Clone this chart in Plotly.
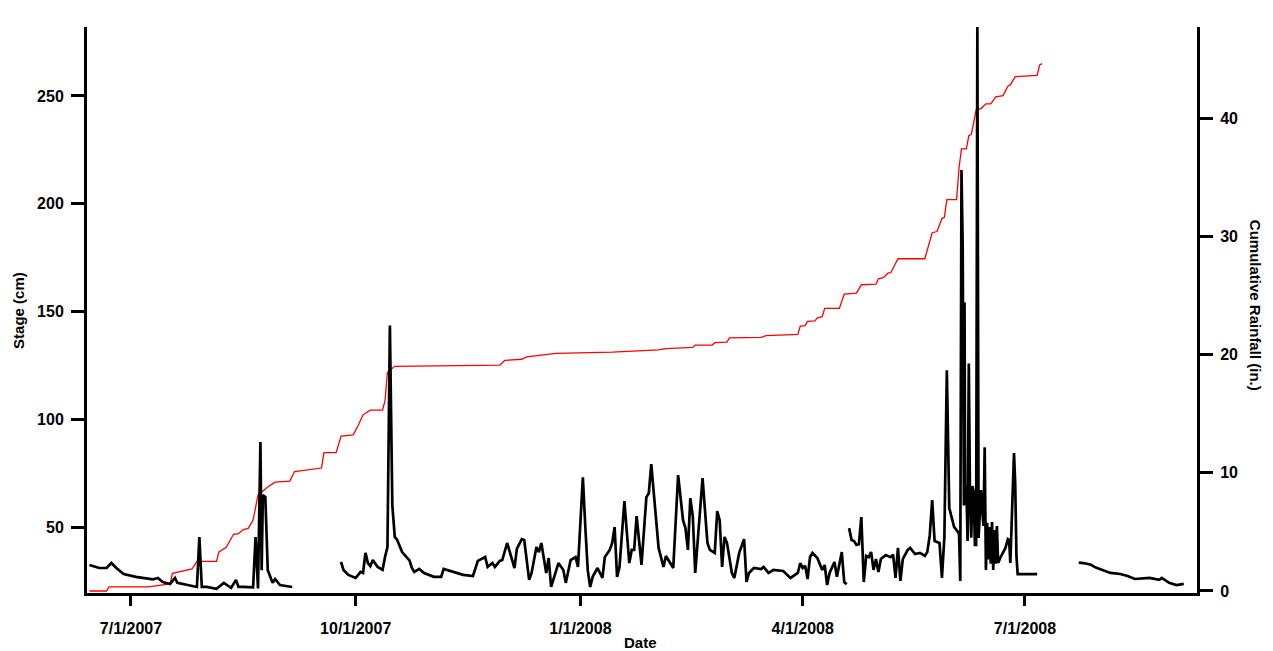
import plotly.graph_objects as go

# ---------------- data ----------------
stage_dates = [
    # segment 1
    "2007-06-14", "2007-06-18", "2007-06-21", "2007-06-23", "2007-06-25", "2007-06-28",
    "2007-07-03", "2007-07-08", "2007-07-10", "2007-07-12", "2007-07-14", "2007-07-17",
    "2007-07-19", "2007-07-20", "2007-07-26", "2007-07-28", "2007-07-29", "2007-07-30",
    "2007-08-01", "2007-08-05", "2007-08-08", "2007-08-11", "2007-08-13", "2007-08-14",
    "2007-08-16", "2007-08-20", "2007-08-21", "2007-08-22", "2007-08-23", "2007-08-23 12:00",
    "2007-08-24", "2007-08-25", "2007-08-26", "2007-08-27", "2007-08-28", "2007-08-29",
    "2007-08-31", "2007-09-05",
    "2007-09-15",  # gap
    # segment 2
    "2007-09-25", "2007-09-26", "2007-09-28", "2007-10-01", "2007-10-03", "2007-10-04",
    "2007-10-05", "2007-10-06", "2007-10-07", "2007-10-08", "2007-10-10", "2007-10-12",
    "2007-10-13", "2007-10-14", "2007-10-15", "2007-10-16", "2007-10-17", "2007-10-18",
    "2007-10-20", "2007-10-23", "2007-10-24", "2007-10-25", "2007-10-27", "2007-10-29",
    "2007-11-02", "2007-11-05", "2007-11-06", "2007-11-10", "2007-11-14", "2007-11-18",
    "2007-11-20", "2007-11-23", "2007-11-24", "2007-11-26", "2007-11-27", "2007-11-29",
    "2007-11-30", "2007-12-02", "2007-12-04", "2007-12-05", "2007-12-06", "2007-12-08",
    "2007-12-09", "2007-12-11", "2007-12-12", "2007-12-14", "2007-12-15", "2007-12-16",
    "2007-12-18", "2007-12-19", "2007-12-20", "2007-12-23", "2007-12-25", "2007-12-26",
    "2007-12-28", "2007-12-30", "2007-12-31", "2008-01-02", "2008-01-03", "2008-01-04",
    "2008-01-05", "2008-01-06", "2008-01-08", "2008-01-10", "2008-01-11", "2008-01-13",
    "2008-01-14", "2008-01-15", "2008-01-16", "2008-01-17", "2008-01-19", "2008-01-21",
    "2008-01-22", "2008-01-23", "2008-01-24", "2008-01-26", "2008-01-28", "2008-01-29",
    "2008-01-30", "2008-02-01", "2008-02-02", "2008-02-04", "2008-02-05", "2008-02-08",
    "2008-02-10", "2008-02-12", "2008-02-13", "2008-02-14", "2008-02-15", "2008-02-16",
    "2008-02-17", "2008-02-20", "2008-02-22", "2008-02-23", "2008-02-25", "2008-02-26",
    "2008-02-27", "2008-02-28", "2008-02-29", "2008-03-01", "2008-03-03", "2008-03-04",
    "2008-03-06", "2008-03-08", "2008-03-09", "2008-03-10", "2008-03-12", "2008-03-15",
    "2008-03-16", "2008-03-18", "2008-03-20", "2008-03-24", "2008-03-27", "2008-03-30",
    "2008-03-31", "2008-04-01", "2008-04-02", "2008-04-03", "2008-04-04", "2008-04-05",
    "2008-04-07", "2008-04-09", "2008-04-10", "2008-04-11", "2008-04-12", "2008-04-14",
    "2008-04-15", "2008-04-17", "2008-04-18", "2008-04-19",
    "2008-04-19 12:00",  # gap
    "2008-04-20", "2008-04-21", "2008-04-22", "2008-04-23", "2008-04-24", "2008-04-25",
    "2008-04-26", "2008-04-27", "2008-04-28", "2008-04-29", "2008-04-30", "2008-05-01",
    "2008-05-02", "2008-05-03", "2008-05-05", "2008-05-07", "2008-05-08", "2008-05-09",
    "2008-05-10", "2008-05-11", "2008-05-12", "2008-05-14", "2008-05-15", "2008-05-17",
    "2008-05-19", "2008-05-21", "2008-05-22", "2008-05-23", "2008-05-24", "2008-05-25",
    "2008-05-27", "2008-05-28", "2008-05-29", "2008-05-30", "2008-05-31", "2008-06-01",
    "2008-06-02", "2008-06-03", "2008-06-04", "2008-06-04 12:00", "2008-06-05", "2008-06-05 12:00",
    "2008-06-06", "2008-06-06 06:00", "2008-06-06 12:00", "2008-06-07", "2008-06-07 12:00", "2008-06-08",
    "2008-06-08 12:00", "2008-06-09", "2008-06-09 12:00", "2008-06-10", "2008-06-10 12:00", "2008-06-11",
    "2008-06-11 12:00", "2008-06-12", "2008-06-12 12:00", "2008-06-13", "2008-06-13 12:00", "2008-06-14",
    "2008-06-14 12:00", "2008-06-15", "2008-06-15 12:00", "2008-06-16", "2008-06-16 12:00", "2008-06-17",
    "2008-06-17 12:00", "2008-06-18", "2008-06-18 12:00", "2008-06-19", "2008-06-19 12:00", "2008-06-20",
    "2008-06-21", "2008-06-22", "2008-06-23", "2008-06-24", "2008-06-24 12:00", "2008-06-25",
    "2008-06-26 12:00", "2008-06-27", "2008-06-27 12:00", "2008-06-28", "2008-07-06",
    "2008-07-15",  # gap
    # segment 3
    "2008-07-23", "2008-07-25", "2008-07-28", "2008-07-30", "2008-08-02", "2008-08-05",
    "2008-08-09", "2008-08-12", "2008-08-15", "2008-08-21", "2008-08-25", "2008-08-26",
    "2008-08-29", "2008-09-01", "2008-09-04",
]
stage_cm = [
    32.4, 31.0, 31.0, 33.3, 31.0, 28.2,
    26.9, 25.9, 25.7, 26.4, 24.5, 23.6,
    26.4, 24.1, 22.7, 22.2, 45.4, 22.2,
    22.2, 21.3, 24.1, 21.8, 25.5, 22.2,
    22.2, 22.0, 45.4, 21.5, 89.4, 30.0,
    64.8, 64.0, 30.0, 26.9, 24.1, 25.9,
    23.1, 22.2,
    None,
    33.8, 30.1, 27.8, 26.4, 29.2, 28.7,
    38.0, 33.3, 31.9, 34.7, 31.5, 30.1,
    36.1, 40.7, 143.5, 60.0, 45.4, 44.0,
    38.4, 34.5, 31.0, 29.2, 30.6, 28.7,
    26.9, 26.9, 30.6, 29.2, 27.8, 27.3,
    34.3, 36.1, 31.5, 33.3, 31.5, 34.3,
    34.7, 42.6, 35.6, 31.0, 40.0, 44.4,
    44.0, 25.5, 28.7, 40.7, 38.4, 42.6,
    28.7, 35.6, 22.2, 33.3, 30.1, 24.1,
    34.7, 36.1, 31.5, 73.1, 50.0, 30.0,
    22.2, 26.9, 31.0, 26.4, 36.1, 39.4,
    42.6, 50.0, 26.9, 31.5, 62.0, 33.3,
    39.4, 39.4, 55.1, 32.4, 63.9, 65.7,
    79.2, 52.0, 40.3, 31.5, 36.6, 31.0,
    74.1, 53.2, 49.5, 39.4, 63.4, 55.0,
    28.7, 72.7, 42.6, 39.4, 38.0, 57.4,
    53.2, 31.5, 45.4, 42.6, 28.7, 26.4,
    38.0, 44.4, 24.5, 28.7, 31.0, 30.5,
    31.5, 28.7, 30.1, 29.6, 26.4, 28.7,
    33.3, 31.0, 32.0, 25.9, 36.1, 38.0,
    35.6, 30.1, 32.4, 23.1, 28.7, 33.8,
    26.9, 38.4, 24.5, 23.5,
    None,
    49.5, 44.0, 43.5, 41.7, 42.0, 54.6,
    24.5, 36.6, 36.0, 38.4, 30.1, 35.2,
    29.2, 35.2, 37.0, 36.0, 37.2, 26.4,
    40.3, 25.0, 35.2, 39.4, 40.3, 37.5,
    38.0, 36.6, 38.4, 46.0, 62.5, 43.5,
    42.6, 26.4, 45.4, 122.7, 58.8, 53.7,
    50.0, 48.6, 46.8, 25.0, 215.7, 179.6,
    60.0, 154.2, 60.6, 69.0, 43.5, 125.9,
    62.0, 45.0, 69.0, 66.0, 41.7, 41.7,
    282.0, 45.0, 60.0, 67.1, 58.0, 50.5,
    87.0, 30.1, 52.0, 35.0, 50.0, 33.0,
    52.3, 30.1, 48.6, 33.0, 50.5, 33.3,
    36.0, 38.0, 40.3, 44.4, 44.0, 33.3,
    84.3, 70.0, 36.6, 28.2, 28.2,
    None,
    33.5, 33.3, 32.5, 31.2, 30.0, 28.7,
    28.2, 27.3, 25.9, 26.4, 25.5, 26.4,
    24.1, 23.1, 23.6,
]

rain_dates = [
    "2007-06-14", "2007-06-21", "2007-06-22", "2007-07-08", "2007-07-17", "2007-07-18",
    "2007-07-26", "2007-07-28", "2007-08-05", "2007-08-06", "2007-08-09", "2007-08-12",
    "2007-08-14", "2007-08-16", "2007-08-18", "2007-08-20", "2007-08-22", "2007-08-26",
    "2007-08-29", "2007-09-04", "2007-09-06", "2007-09-17", "2007-09-18", "2007-09-23",
    "2007-09-25", "2007-09-30", "2007-10-02", "2007-10-04", "2007-10-07", "2007-10-12",
    "2007-10-13", "2007-10-14", "2007-10-17", "2007-11-29", "2007-12-01", "2007-12-08",
    "2007-12-10", "2007-12-20", "2007-12-22", "2008-01-14", "2008-02-02", "2008-02-05",
    "2008-02-16", "2008-02-17", "2008-02-24", "2008-02-25", "2008-03-01", "2008-03-02",
    "2008-03-15", "2008-03-17", "2008-03-30", "2008-03-31", "2008-04-02", "2008-04-03",
    "2008-04-06", "2008-04-07", "2008-04-09", "2008-04-10", "2008-04-16", "2008-04-18",
    "2008-04-23", "2008-04-25", "2008-05-01", "2008-05-02", "2008-05-04", "2008-05-06",
    "2008-05-07", "2008-05-10", "2008-05-21", "2008-05-24", "2008-05-26", "2008-05-28",
    "2008-05-29", "2008-05-30", "2008-06-03", "2008-06-04", "2008-06-05", "2008-06-07",
    "2008-06-08", "2008-06-09", "2008-06-11", "2008-06-13", "2008-06-15", "2008-06-17",
    "2008-06-19", "2008-06-22", "2008-06-24", "2008-06-25", "2008-06-27", "2008-07-06",
    "2008-07-07", "2008-07-08",
]
rain_in = [
    0.0, 0.0, 0.34, 0.35, 0.6, 1.5,
    1.86, 2.5, 2.5, 3.3, 3.7, 4.8,
    4.85, 5.2, 5.3, 6.0, 8.1, 8.8,
    9.2, 9.3, 10.1, 10.4, 11.7, 11.7,
    13.1, 13.2, 14.0, 14.9, 15.3, 15.3,
    16.1, 18.5, 19.0, 19.1, 19.5, 19.6,
    19.8, 20.0, 20.1, 20.2, 20.4, 20.5,
    20.6, 20.8, 20.8, 21.0, 21.05, 21.4,
    21.45, 21.6, 21.7, 22.4, 22.45, 22.8,
    22.85, 23.1, 23.2, 23.9, 23.9, 25.1,
    25.2, 25.9, 25.95, 26.4, 26.5, 26.9,
    26.9, 28.1, 28.1, 30.3, 30.4, 31.5,
    31.6, 33.1, 33.1, 35.8, 37.4, 37.4,
    38.5, 38.6, 40.7, 40.8, 41.2, 41.2,
    41.8, 41.9, 42.7, 42.8, 43.5, 43.6,
    44.5, 44.6,
]

x_tick_dates = ["2007-07-01", "2007-10-01", "2008-01-01", "2008-04-01", "2008-07-01"]
x_tick_text = ["7/1/2007", "10/1/2007", "1/1/2008", "4/1/2008", "7/1/2008"]
stage_ticks = [50, 100, 150, 200, 250]
rain_ticks = [0, 10, 20, 30, 40]

# ---------------- figure ----------------
FONT = "Liberation Sans, Arial, sans-serif"

fig = go.Figure()
fig.add_trace(go.Scatter(
    x=rain_dates, y=rain_in, mode="lines", yaxis="y",
    line=dict(color="#ff0000", width=1.3), name="Cumulative Rainfall",
))
fig.add_trace(go.Scatter(
    x=stage_dates, y=stage_cm, mode="lines", yaxis="y2",
    line=dict(color="#000000", width=2.7), connectgaps=False, name="Stage",
))

axis_common = dict(
    showline=True, linecolor="black", linewidth=3,
    ticks="outside", tickcolor="black", tickwidth=3,
    showgrid=False, zeroline=False, automargin=False,
    tickfont=dict(family=FONT, size=16, color="black", weight="bold"),
)

fig.update_layout(
    width=1273, height=651,
    margin=dict(l=87, r=76, t=27, b=58, autoexpand=False),
    paper_bgcolor="white", plot_bgcolor="white",
    showlegend=False,
    font=dict(family=FONT, color="black"),
    xaxis=dict(
        range=["2007-06-13", "2008-09-09 10:00"], type="date",
        tickvals=x_tick_dates, ticktext=x_tick_text, ticklen=10,
        ticklabelstandoff=9,
        **axis_common,
    ),
    yaxis=dict(
        side="right", range=[-0.17, 47.7], tickvals=rain_ticks,
        ticklen=13, ticklabelstandoff=4,
        **axis_common,
    ),
    yaxis2=dict(
        side="left", overlaying="y", range=[19.4, 282], tickvals=stage_ticks,
        ticklen=13, ticklabelstandoff=4,
        **axis_common,
    ),
    annotations=[
        dict(text="Stage (cm)", xref="paper", yref="paper", x=-0.0622, y=0.5,
             textangle=-90, showarrow=False, xanchor="center", yanchor="middle",
             font=dict(family=FONT, size=15, color="black", weight="bold")),
        dict(text="Cumulative Rainfall (in.)", xref="paper", yref="paper", x=1.0523, y=0.509,
             textangle=90, showarrow=False, xanchor="center", yanchor="middle",
             font=dict(family=FONT, size=15, color="black", weight="bold")),
        dict(text="Date", xref="paper", yref="paper", x=0.499, y=-0.0883,
             showarrow=False, xanchor="center", yanchor="middle",
             font=dict(family=FONT, size=15, color="black", weight="bold")),
    ],
)

fig.write_html(
    "out.html",
    config={"displayModeBar": False},
    post_script="document.body.style.margin='0';document.body.style.padding='0';"
                "document.documentElement.style.overflow='hidden';",
)
